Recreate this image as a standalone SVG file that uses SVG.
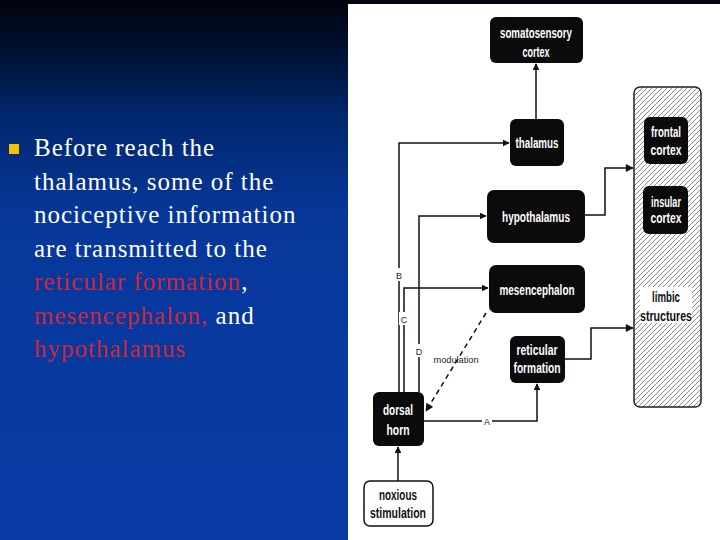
<svg xmlns="http://www.w3.org/2000/svg" width="720" height="540" viewBox="0 0 720 540">
  <defs>
    <linearGradient id="bg" x1="0" y1="0" x2="0" y2="1">
      <stop offset="0" stop-color="#00030c"/>
      <stop offset="0.1" stop-color="#001233"/>
      <stop offset="0.22" stop-color="#00286e"/>
      <stop offset="0.4" stop-color="#07379a"/>
      <stop offset="1" stop-color="#0a3ca6"/>
    </linearGradient>
    <pattern id="hatch" patternUnits="userSpaceOnUse" width="5" height="5">
      <rect width="5" height="5" fill="#ffffff"/>
      <path d="M-1,6 L6,-1" stroke="#6a6a6a" stroke-width="0.8"/>
    </pattern>
    <marker id="arr" viewBox="0 0 10 10" refX="9" refY="5" markerWidth="7" markerHeight="7" markerUnits="userSpaceOnUse" orient="auto">
      <path d="M0,0 L10,5 L0,10 Z" fill="#111"/>
    </marker>
    <marker id="arrb" viewBox="0 0 10 10" refX="9" refY="5" markerWidth="9" markerHeight="8" markerUnits="userSpaceOnUse" orient="auto">
      <path d="M0,0 L10,5 L0,10 Z" fill="#111"/>
    </marker>
  </defs>
  <style>
    .slide { font-family: "Liberation Serif", "Times New Roman", serif; font-size: 25px; letter-spacing: 1px; }
    .w { fill: #ffffff; }
    .r { fill: #c8283c; }
    .box { fill: #0b0b0b; }
    .bt { font-family: "Liberation Sans", Arial, sans-serif; font-weight: bold; font-size: 15px; fill: #ffffff; text-anchor: middle; }
    .dt { font-family: "Liberation Sans", Arial, sans-serif; font-weight: bold; font-size: 15px; fill: #111; text-anchor: middle; }
    .lab { font-family: "Liberation Sans", Arial, sans-serif; font-size: 9px; fill: #222; text-anchor: middle; }
    .ln { fill: none; stroke: #111; stroke-width: 1.5; }
  </style>

  <rect x="0" y="0" width="720" height="540" fill="url(#bg)"/>
  <rect x="348" y="4" width="372" height="536" fill="#ffffff"/>

  <g id="bullet-text">
    <rect x="9" y="144" width="10" height="10" fill="#f7c200"/>
    <text class="slide" x="34" y="156"><tspan class="w">Before reach the</tspan></text>
    <text class="slide" x="34" y="189.5"><tspan class="w">thalamus, some of the</tspan></text>
    <text class="slide" x="34" y="223"><tspan class="w">nociceptive information</tspan></text>
    <text class="slide" x="34" y="256.5"><tspan class="w">are  transmitted to the</tspan></text>
    <text class="slide" x="34" y="290"><tspan class="r">reticular formation</tspan><tspan class="w">,</tspan></text>
    <text class="slide" x="34" y="323.5"><tspan class="r">mesencephalon,</tspan><tspan class="w"> and</tspan></text>
    <text class="slide" x="34" y="357"><tspan class="r">hypothalamus</tspan></text>
  </g>

  <g id="connectors">
    <path class="ln" d="M399,392 V143 H509" marker-end="url(#arr)"/>
    <path class="ln" d="M404,392 V288 H488" marker-end="url(#arr)"/>
    <path class="ln" d="M419,392 V216 H486" marker-end="url(#arr)"/>
    <path class="ln" d="M536,119 V64" marker-end="url(#arr)"/>
    <path class="ln" d="M585,215 H605 V168 H633" stroke-width="2" marker-end="url(#arrb)"/>
    <path class="ln" d="M565,359 H591 V328 H633" stroke-width="2" marker-end="url(#arrb)"/>
    <path class="ln" d="M424,421 H537 V384" stroke-width="2.2" marker-end="url(#arr)"/>
    <path class="ln" d="M398,481 V447" marker-end="url(#arr)"/>
    <path class="ln" d="M486,313 L426,411" stroke-width="1.8" stroke-dasharray="5,4" marker-end="url(#arrb)"/>
    <rect x="394" y="268" width="10" height="13" fill="#fff"/>
    <text class="lab" x="399" y="279">B</text>
    <rect x="399" y="312" width="10" height="13" fill="#fff"/>
    <text class="lab" x="404" y="323">C</text>
    <rect x="414" y="344" width="10" height="13" fill="#fff"/>
    <text class="lab" x="419" y="355">D</text>
    <rect x="482" y="415" width="10" height="12" fill="#fff"/>
    <text class="lab" x="487" y="425">A</text>
    <text class="lab" x="456" y="363" textLength="45" lengthAdjust="spacingAndGlyphs">modulation</text>
  </g>

  <g id="somatosensory-cortex">
    <rect class="box" x="490" y="17" width="93" height="46" rx="6"/>
    <text class="bt" x="536" y="38" textLength="72" lengthAdjust="spacingAndGlyphs">somatosensory</text>
    <text class="bt" x="536" y="57" textLength="27" lengthAdjust="spacingAndGlyphs">cortex</text>
  </g>
  <g id="thalamus">
    <rect class="box" x="510" y="119" width="54" height="47" rx="6"/>
    <text class="bt" x="537" y="148" textLength="43" lengthAdjust="spacingAndGlyphs">thalamus</text>
  </g>
  <g id="hypothalamus">
    <rect class="box" x="487" y="190" width="98" height="53" rx="7"/>
    <text class="bt" x="536" y="222" textLength="68" lengthAdjust="spacingAndGlyphs">hypothalamus</text>
  </g>
  <g id="mesencephalon">
    <rect class="box" x="489" y="265" width="96" height="48" rx="7"/>
    <text class="bt" x="537" y="295" textLength="75" lengthAdjust="spacingAndGlyphs">mesencephalon</text>
  </g>
  <g id="reticular-formation">
    <rect class="box" x="510" y="336" width="55" height="47" rx="6"/>
    <text class="bt" x="537" y="355" textLength="41" lengthAdjust="spacingAndGlyphs">reticular</text>
    <text class="bt" x="537" y="373" textLength="47" lengthAdjust="spacingAndGlyphs">formation</text>
  </g>
  <g id="dorsal-horn">
    <rect class="box" x="373" y="392" width="51" height="54" rx="6"/>
    <text class="bt" x="398" y="415" textLength="30" lengthAdjust="spacingAndGlyphs">dorsal</text>
    <text class="bt" x="398" y="435" textLength="23" lengthAdjust="spacingAndGlyphs">horn</text>
  </g>
  <g id="noxious-stimulation">
    <rect x="364" y="481" width="69" height="45" rx="6" fill="#fff" stroke="#111" stroke-width="1.5"/>
    <text class="dt" x="398" y="500" textLength="38" lengthAdjust="spacingAndGlyphs">noxious</text>
    <text class="dt" x="398" y="518" textLength="56" lengthAdjust="spacingAndGlyphs">stimulation</text>
  </g>
  <g id="limbic-structures">
    <rect x="634" y="87" width="67" height="320" rx="6" fill="url(#hatch)" stroke="#222" stroke-width="1.5"/>
    <rect x="640" y="287" width="52" height="36" fill="#fff"/>
    <text class="dt" x="666" y="302" textLength="28" lengthAdjust="spacingAndGlyphs">limbic</text>
    <text class="dt" x="666" y="321" textLength="52" lengthAdjust="spacingAndGlyphs">structures</text>
  </g>
  <g id="frontal-cortex">
    <rect class="box" x="644" y="117" width="44" height="47" rx="6"/>
    <text class="bt" x="666" y="137" textLength="30" lengthAdjust="spacingAndGlyphs">frontal</text>
    <text class="bt" x="666" y="155" textLength="31" lengthAdjust="spacingAndGlyphs">cortex</text>
  </g>
  <g id="insular-cortex">
    <rect class="box" x="643" y="186" width="45" height="48" rx="6"/>
    <text class="bt" x="666" y="207" textLength="30" lengthAdjust="spacingAndGlyphs">insular</text>
    <text class="bt" x="666" y="223" textLength="31" lengthAdjust="spacingAndGlyphs">cortex</text>
  </g>
</svg>
